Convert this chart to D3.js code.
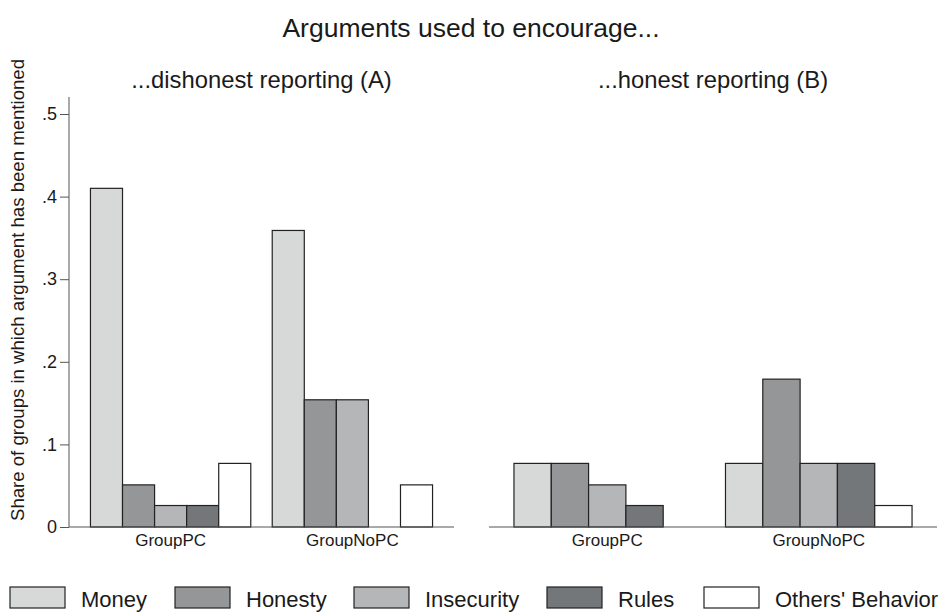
<!DOCTYPE html>
<html>
<head>
<meta charset="utf-8">
<script src="https://cdn.jsdelivr.net/npm/d3@7"></script>
<style>
  html, body { margin: 0; padding: 0; background: #fff; }
  svg { display: block; font-family: "Liberation Sans", Arial, Helvetica, sans-serif; }
</style>
</head>
<body>
<svg id="chart" width="942" height="615"></svg>
<script>
// ---- data ----
const series = ["Money", "Honesty", "Insecurity", "Rules", "Others' Behavior"];
const groups = ["GroupPC", "GroupNoPC"];
const panelTitles = ["...dishonest reporting (A)", "...honest reporting (B)"];
const dishonestPC   = [0.410, 0.051, 0.026, 0.026, 0.077];
const dishonestNoPC = [0.359, 0.154, 0.154, 0.000, 0.051];
const honestPC      = [0.077, 0.077, 0.051, 0.026, 0.000];
const honestNoPC    = [0.077, 0.179, 0.077, 0.077, 0.026];
const yTicks = [0, 0.1, 0.2, 0.3, 0.4, 0.5];
const yTickLabels = ["0", ".1", ".2", ".3", ".4", ".5"];
const colors = ["#d7d9d9", "#959698", "#b5b6b8", "#74777a", "#ffffff"];

const panels = [
  { title: panelTitles[0], values: [dishonestPC, dishonestNoPC], x0: 69, x1: 454 },
  { title: panelTitles[1], values: [honestPC, honestNoPC], x0: 489, x1: 937 }
];

const svg = d3.select("#chart");
const y = d3.scaleLinear().domain([0, 0.5]).range([527, 114]);
const yMaxAxis = 0.5206;
const color = d3.scaleOrdinal().domain(series).range(colors);

// Title
svg.append("text")
  .attr("x", 471).attr("y", 37)
  .attr("text-anchor", "middle")
  .style("font-size", "26.5px")
  .attr("fill", "#1a1a1a")
  .text("Arguments used to encourage...");

// Y axis title
svg.append("text")
  .attr("transform", "translate(24,290) rotate(-90)")
  .attr("text-anchor", "middle")
  .style("font-size", "18.6px")
  .attr("fill", "#1a1a1a")
  .text("Share of groups in which argument has been mentioned");

// Y axis (left panel only)
const yAxisG = svg.append("g").attr("transform", "translate(69,0)");
yAxisG.append("line")
  .attr("x1", 0).attr("x2", 0)
  .attr("y1", y(0)).attr("y2", y(yMaxAxis))
  .attr("stroke", "#555").attr("stroke-width", 1);
const yAx = d3.axisLeft(y).tickValues(yTicks)
  .tickFormat((d, i) => yTickLabels[i])
  .tickSize(9).tickPadding(3);
const yAxG = yAxisG.append("g").call(yAx);
yAxG.attr("font-size", null).attr("font-family", null);
yAxG.select(".domain").remove();
yAxG.selectAll(".tick line").attr("stroke", "#555");
yAxG.selectAll(".tick text")
  .style("font-size", "18px")
  .style("font-family", "'Liberation Sans', Arial, sans-serif")
  .attr("fill", "#1a1a1a");

panels.forEach(p => {
  const g = svg.append("g");
  const xg = d3.scaleBand().domain(groups).range([p.x0, p.x1])
    .paddingInner(0.118).paddingOuter(0.118);
  const xs = d3.scaleBand().domain(series).range([0, xg.bandwidth()]).padding(0);

  // panel subtitle
  g.append("text")
    .attr("x", (p.x0 + p.x1) / 2).attr("y", 88)
    .attr("text-anchor", "middle")
    .style("font-size", "23.8px")
    .attr("fill", "#1a1a1a")
    .text(p.title);

  // bars
  groups.forEach((grp, gi) => {
    const vals = p.values[gi];
    g.selectAll(null)
      .data(series.map((s, si) => ({ s, v: vals[si] })).filter(d => d.v > 0))
      .enter().append("rect")
      .attr("x", d => xg(grp) + xs(d.s))
      .attr("y", d => y(d.v))
      .attr("width", xs.bandwidth())
      .attr("height", d => y(0) - y(d.v))
      .attr("fill", d => color(d.s))
      .attr("stroke", "#222")
      .attr("stroke-width", 1.2);
  });

  // baseline
  g.append("line")
    .attr("x1", p.x0).attr("x2", p.x1)
    .attr("y1", y(0)).attr("y2", y(0))
    .attr("stroke", "#555").attr("stroke-width", 1);

  // category labels
  groups.forEach(grp => {
    g.append("text")
      .attr("x", xg(grp) + xg.bandwidth() / 2)
      .attr("y", 546)
      .attr("text-anchor", "middle")
      .style("font-size", "17px")
      .attr("fill", "#1a1a1a")
      .text(grp);
  });
});

// Legend
const legend = svg.append("g");
const legendX = [10, 175, 354, 547, 704];
const swW = 55, swH = 21, txtGap = 16;
series.forEach((s, i) => {
  const it = legend.append("g").attr("transform", `translate(${legendX[i]},0)`);
  it.append("rect")
    .attr("x", 0).attr("y", 587)
    .attr("width", swW).attr("height", swH)
    .attr("fill", color(s)).attr("stroke", "#222").attr("stroke-width", 1.2);
  it.append("text")
    .attr("x", swW + txtGap).attr("y", 607)
    .style("font-size", "22px")
    .attr("fill", "#1a1a1a")
    .text(s);
});
</script>
</body>
</html>
